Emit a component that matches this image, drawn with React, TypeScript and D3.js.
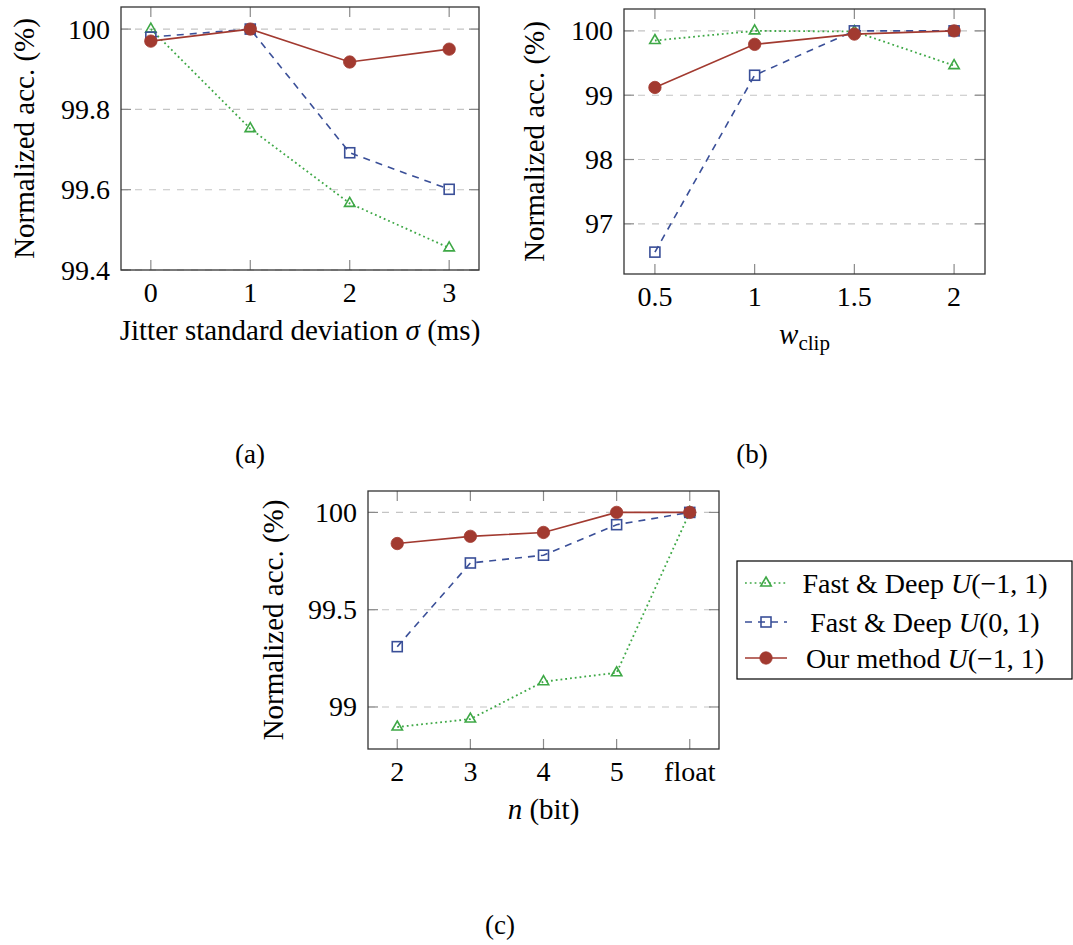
import React from "react";
import * as d3 from "d3";

// ---------- data ----------
const jitterX = [0, 1, 2, 3];
const jitterFD11 = [100.0, 99.752, 99.566, 99.455];
const jitterFD01 = [99.98, 100.0, 99.692, 99.601];
const jitterOurs = [99.97, 100.0, 99.918, 99.95];
const jitterYTicks = [99.4, 99.6, 99.8, 100];

const clipX = [0.5, 1, 1.5, 2];
const clipFD11 = [99.85, 100.0, 99.99, 99.46];
const clipFD01 = [96.56, 99.31, 100.0, 100.0];
const clipOurs = [99.12, 99.79, 99.95, 100.0];
const clipYTicks = [97, 98, 99, 100];

const bitCats = ["2", "3", "4", "5", "float"];
const bitFD11 = [98.897, 98.938, 99.13, 99.176, 100.0];
const bitFD01 = [99.31, 99.74, 99.78, 99.937, 100.0];
const bitOurs = [99.84, 99.877, 99.897, 100.0, 100.0];
const bitYTicks = [99, 99.5, 100];

const legendPrefixes = ["Fast & Deep", "Fast & Deep", "Our method"];
const legendArgs = ["(\u22121, 1)", "(0, 1)", "(\u22121, 1)"];

// ---------- styles ----------
const FONT = "Liberation Serif, Times New Roman, Times, DejaVu Serif, serif";
const GREEN = "#3ea846";
const BLUE = "#3a4f98";
const RED = "#a23a30";
const seriesStyles = [
  { color: GREEN, dash: "1.8 3", marker: "tri" },
  { color: BLUE, dash: "7 6", marker: "sq" },
  { color: RED, dash: null, marker: "circ" },
];

function Marker({ kind, x, y, color }: { kind: string; x: number; y: number; color: string }) {
  if (kind === "tri") {
    const r = 6;
    const p = `M${x},${y - r} L${x + r * 0.866},${y + r / 2} L${x - r * 0.866},${y + r / 2} Z`;
    return <path d={p} fill="none" stroke={color} strokeWidth={1.6} />;
  }
  if (kind === "sq") {
    const s = 10;
    return <rect x={x - s / 2} y={y - s / 2} width={s} height={s} fill="none" stroke={color} strokeWidth={1.6} />;
  }
  return <circle cx={x} cy={y} r={6.2} fill={color} stroke={color} strokeWidth={0.8} />;
}

type PanelProps = {
  left: number; top: number; right: number; bottom: number;
  xPos: (i: number) => number;
  xTickLabels: string[];
  yScale: d3.ScaleLinear<number, number>;
  yTicks: number[];
  series: number[][];
  yLabelX: number;
  xLabel: React.ReactNode;
};

function Panel(p: PanelProps) {
  const n = p.xTickLabels.length;
  const tickLen = 10;
  const midY = (p.top + p.bottom) / 2;
  const midX = (p.left + p.right) / 2;
  const fmt = (v: number) => (Number.isInteger(v) ? String(v) : v.toFixed(1));
  return (
    <g>
      {p.yTicks.map((t, i) => (
        <line key={"g" + i} x1={p.left} x2={p.right} y1={p.yScale(t)} y2={p.yScale(t)}
          stroke="#c4c4c4" strokeWidth={1.1} strokeDasharray="7 7" />
      ))}
      {d3.range(n).map((i) => (
        <g key={"xt" + i}>
          <line x1={p.xPos(i)} x2={p.xPos(i)} y1={p.top} y2={p.top + tickLen} stroke="#8a8a8a" strokeWidth={1.2} />
          <line x1={p.xPos(i)} x2={p.xPos(i)} y1={p.bottom} y2={p.bottom - tickLen} stroke="#8a8a8a" strokeWidth={1.2} />
          <text x={p.xPos(i)} y={p.bottom + 32} textAnchor="middle" fontSize={28} style={{ fontFamily: FONT }}>
            {p.xTickLabels[i]}
          </text>
        </g>
      ))}
      {p.yTicks.map((t, i) => (
        <g key={"yt" + i}>
          <line x1={p.left} x2={p.left + tickLen} y1={p.yScale(t)} y2={p.yScale(t)} stroke="#8a8a8a" strokeWidth={1.2} />
          <line x1={p.right} x2={p.right - tickLen} y1={p.yScale(t)} y2={p.yScale(t)} stroke="#8a8a8a" strokeWidth={1.2} />
          <text x={p.left - 11} y={p.yScale(t) + 9.5} textAnchor="end" fontSize={28} style={{ fontFamily: FONT }}>
            {fmt(t)}
          </text>
        </g>
      ))}
      {p.series.map((vals, si) => {
        const st = seriesStyles[si];
        const line = d3.line<number>().x((_, i) => p.xPos(i)).y((v) => p.yScale(v));
        return (
          <g key={"s" + si}>
            <path d={line(vals) || ""} fill="none" stroke={st.color} strokeWidth={si === 0 ? 1.8 : 1.6}
              strokeDasharray={st.dash || undefined} />
            {vals.map((v, i) => (
              <Marker key={i} kind={st.marker} x={p.xPos(i)} y={p.yScale(v)} color={st.color} />
            ))}
          </g>
        );
      })}
      <rect x={p.left} y={p.top} width={p.right - p.left} height={p.bottom - p.top}
        fill="none" stroke="#333" strokeWidth={1.3} />
      <text transform={`translate(${p.yLabelX},${midY}) rotate(-90)`} textAnchor="middle"
        fontSize={29} style={{ fontFamily: FONT }}>Normalized acc. (%)</text>
      <text x={midX} y={p.bottom + 70} textAnchor="middle" fontSize={29} style={{ fontFamily: FONT }}>{p.xLabel}</text>
    </g>
  );
}

export default function App() {
  const aL = 121, aT = 7, aR = 479, aB = 270;
  const ax = d3.scaleLinear().domain([-0.3, 3.3]).range([aL, aR]);
  const ay = d3.scaleLinear().domain([99.4, 100.055]).range([aB, aT]);
  const bL = 624, bT = 9, bR = 985, bB = 274;
  const bx = d3.scaleLinear().domain([0.345, 2.155]).range([bL, bR]);
  const by = d3.scaleLinear().domain([96.22, 100.34]).range([bB, bT]);
  const cL = 368, cT = 491, cR = 719, cB = 749;
  const cx = d3.scalePoint<string>().domain(bitCats).range([cL, cR]).padding(0.4);
  const cy = d3.scaleLinear().domain([98.784, 100.11]).range([cB, cT]);

  const legX = 737, legY = 561, legW = 335, legH = 118;
  const legRows = [583, 622, 658];

  return (
    <svg width={1073} height={945} style={{ position: "absolute", left: 0, top: 0, background: "#fff", fontFamily: FONT }}>
      <rect x={0} y={0} width={1073} height={945} fill="#fff" />
      <Panel left={aL} top={aT} right={aR} bottom={aB}
        xPos={(i) => ax(jitterX[i])} xTickLabels={jitterX.map(String)}
        yScale={ay} yTicks={jitterYTicks}
        series={[jitterFD11, jitterFD01, jitterOurs]} yLabelX={34}
        xLabel={<>Jitter standard deviation <tspan fontStyle="italic">σ</tspan> (ms)</>} />
      <Panel left={bL} top={bT} right={bR} bottom={bB}
        xPos={(i) => bx(clipX[i])} xTickLabels={clipX.map(String)}
        yScale={by} yTicks={clipYTicks}
        series={[clipFD11, clipFD01, clipOurs]} yLabelX={544}
        xLabel={<><tspan fontStyle="italic">w</tspan><tspan fontSize={21} dy={6}>clip</tspan></>} />
      <Panel left={cL} top={cT} right={cR} bottom={cB}
        xPos={(i) => cx(bitCats[i]) as number} xTickLabels={bitCats}
        yScale={cy} yTicks={bitYTicks}
        series={[bitFD11, bitFD01, bitOurs]} yLabelX={283}
        xLabel={<><tspan fontStyle="italic">n</tspan> (bit)</>} />

      <rect x={legX} y={legY} width={legW} height={legH} fill="#fff" stroke="#000" strokeWidth={1.2} />
      {legRows.map((ry, i) => {
        const st = seriesStyles[i];
        return (
          <g key={"l" + i}>
            <line x1={745} x2={787} y1={ry} y2={ry} stroke={st.color} strokeWidth={1.6}
              strokeDasharray={st.dash || undefined} />
            <Marker kind={st.marker} x={766} y={ry} color={st.color} />
            <text x={925} y={ry + 10} textAnchor="middle" fontSize={28} style={{ fontFamily: FONT }}>
              {legendPrefixes[i]} <tspan fontStyle="italic">U</tspan>{legendArgs[i]}
            </text>
          </g>
        );
      })}

      <text x={250} y={463} textAnchor="middle" fontSize={27} style={{ fontFamily: FONT }}>(a)</text>
      <text x={752} y={463} textAnchor="middle" fontSize={27} style={{ fontFamily: FONT }}>(b)</text>
      <text x={500} y={934} textAnchor="middle" fontSize={27} style={{ fontFamily: FONT }}>(c)</text>
    </svg>
  );
}
